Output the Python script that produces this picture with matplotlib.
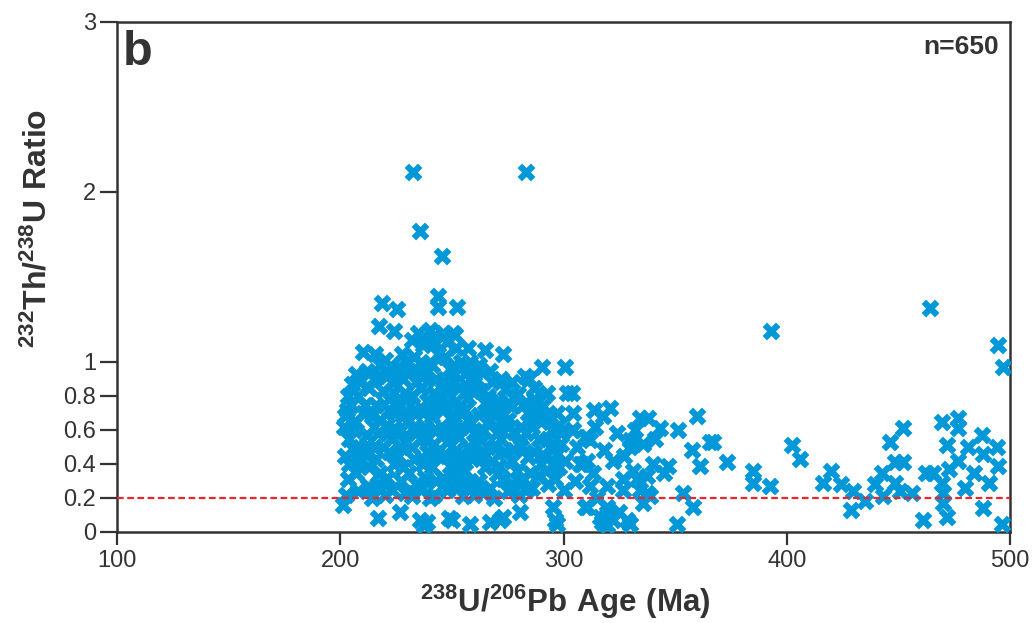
import matplotlib
matplotlib.use("Agg")
import matplotlib.pyplot as plt

# ---------------- data ----------------
# high outliers
age_high = [232.4, 283.0, 235.7, 245.7, 243.8, 218.6, 225.3, 243.9, 252.1, 217.5, 224.2,
            392.9, 464.2, 494.8, 497.0]
ratio_high = [2.12, 2.12, 1.77, 1.625, 1.39, 1.35, 1.31, 1.325, 1.325, 1.21, 1.18,
              1.18, 1.32, 1.10, 0.97]

# main cluster 200-300 Ma
age_core = [202, 201.5, 202, 203.5, 204, 205, 205.1, 203, 204, 202.5,
            207, 208, 206, 209, 207, 208, 210, 209, 207,
            210.3, 212, 213, 211, 214, 212, 211, 213, 212.6, 214, 215, 215,
            215.6, 220, 217, 219, 216, 218, 217, 219, 216, 218, 217, 220,
            221, 223, 222, 224, 221, 223, 222, 224, 221, 223, 222, 225,
            227.5, 226, 228, 229, 226, 228, 227, 229, 226, 228, 227, 229, 230, 230,
            232, 233, 231, 234, 232, 233, 231, 234, 232, 233, 231, 234, 232,
            235, 237, 236, 238, 236, 239, 237, 238, 236, 239, 237, 238, 236, 240,
            240.2, 242, 244, 241, 243, 242, 244, 241, 243, 242, 244, 241, 243, 242,
            246, 248, 247, 249, 246, 248, 250.6, 247, 249, 246, 248, 247, 249, 246, 248,
            250.6, 251.4, 252, 254, 251, 253, 252, 254, 251, 253, 252, 254, 251, 253, 255,
            257.4, 258, 256, 259, 257, 256, 258, 260, 257, 259, 256, 258, 260,
            264.8, 262, 261, 263, 265, 262, 264, 261, 263, 265, 262, 264,
            267.1, 268, 266, 269, 267, 270, 266, 268, 270, 267, 269,
            273, 272, 274, 271, 273, 275, 272, 274, 271, 273, 275,
            276.8, 279.7, 277, 275.3, 278, 280, 276.8, 279, 277, 280,
            282.8, 284.5, 282, 285, 283, 281, 284, 281.3, 283, 285,
            290.2, 287, 288, 286, 289, 287, 288.7, 286, 290,
            292.4, 291, 294.7, 293, 291.7, 294, 292, 293,
            296.9, 298, 296.2, 299, 297, 298, 300, 300.7, 301.4, 300.7]
ratio_core = [0.68, 0.62, 0.45, 0.31, 0.55, 0.75, 0.87, 0.72, 0.40, 0.22,
              0.93, 0.80, 0.60, 0.50, 0.35, 0.24, 0.70, 0.42, 0.65,
              1.06, 0.95, 0.85, 0.75, 0.68, 0.57, 0.46, 0.38, 0.27, 0.20, 0.90, 0.50,
              1.05, 1.01, 0.92, 0.83, 0.75, 0.66, 0.58, 0.50, 0.43, 0.35, 0.28, 0.22,
              0.95, 0.88, 0.78, 0.70, 0.63, 0.55, 0.47, 0.40, 0.32, 0.25, 0.72, 0.60,
              1.05, 0.97, 0.90, 0.82, 0.76, 0.69, 0.60, 0.53, 0.45, 0.38, 0.30, 0.23, 0.65, 1.00,
              1.13, 1.03, 0.95, 0.88, 0.80, 0.72, 0.66, 0.58, 0.50, 0.43, 0.35, 0.28, 0.21,
              1.17, 1.10, 1.00, 0.93, 0.85, 0.77, 0.70, 0.62, 0.55, 0.47, 0.40, 0.32, 0.25, 0.20,
              1.19, 1.12, 1.05, 0.98, 0.90, 0.82, 0.75, 0.68, 0.60, 0.52, 0.45, 0.38, 0.30, 0.22,
              1.17, 1.12, 1.03, 0.96, 0.89, 0.82, 0.89, 0.74, 0.67, 0.60, 0.53, 0.46, 0.39, 0.32, 0.25,
              1.17, 1.16, 1.08, 1.00, 0.93, 0.85, 0.77, 0.70, 0.63, 0.56, 0.48, 0.41, 0.34, 0.27, 0.21,
              1.08, 1.00, 0.93, 0.86, 0.79, 0.72, 0.65, 0.58, 0.50, 0.43, 0.36, 0.29, 0.22,
              1.07, 0.98, 0.90, 0.83, 0.76, 0.69, 0.60, 0.52, 0.45, 0.38, 0.30, 0.23,
              0.95, 0.88, 0.80, 0.73, 0.66, 0.58, 0.50, 0.42, 0.34, 0.26, 0.20,
              1.05, 0.90, 0.84, 0.77, 0.70, 0.62, 0.55, 0.47, 0.39, 0.31, 0.24,
              0.88, 0.81, 0.74, 0.66, 0.59, 0.52, 0.42, 0.36, 0.28, 0.22,
              0.92, 0.90, 0.75, 0.66, 0.58, 0.50, 0.44, 0.31, 0.25, 0.35,
              0.97, 0.85, 0.72, 0.62, 0.55, 0.47, 0.33, 0.26, 0.40,
              0.82, 0.74, 0.60, 0.67, 0.44, 0.50, 0.36, 0.28,
              0.70, 0.63, 0.31, 0.52, 0.46, 0.38, 0.25, 0.97, 0.82, 0.42]

# a few extra points inside the dense cluster
age_fill = [203.5, 206, 209, 211.5, 215, 218, 221.5, 224, 227, 230, 233,
            236, 239, 242, 245, 245.5, 248, 251, 254, 257, 260, 263, 266,
            269, 272, 275, 278, 281, 284, 287, 290, 293, 296, 299]
ratio_fill = [0.80, 0.48, 0.88, 0.50, 0.62, 0.98, 0.58, 0.82, 0.50, 0.78, 0.62,
              0.92, 0.55, 0.72, 0.80, 1.15, 0.58, 0.98, 0.62, 0.85, 0.93, 0.58, 0.70,
              0.50, 0.65, 0.76, 0.48, 0.62, 0.70, 0.78, 0.65, 0.55, 0.40, 0.58]

# low-ratio points under the 0.2 line (200-300 Ma)
age_low = [201.4, 216.9, 226.8, 235.7, 237.5, 238.7, 248.7, 249.9, 258.1,
           267.1, 271.6, 273.0, 280.5, 295.4, 296.2, 296.9]
ratio_low = [0.16, 0.08, 0.12, 0.07, 0.04, 0.06, 0.08, 0.07, 0.05,
             0.06, 0.07, 0.09, 0.12, 0.15, 0.07, 0.05]

# 300-375 Ma
age_mid = [303.6, 304.3, 303.6, 311.9, 307.4, 304.4, 309.6, 308.1, 309.6, 310.4,
           310.4, 311.9, 310.4, 316.3, 317.1, 317.8, 320.8, 319.3, 319.3, 319.3,
           319.3, 322.3, 322.3, 323.8, 326.8, 326.8, 328.3, 329.8, 329.8, 329.8,
           331.3, 332.8, 334.3, 334.3, 335.8, 335.8, 337.2, 337.2, 338.0, 338.8,
           343.2, 346.9, 350.7, 351.4, 353.7, 357.4, 358.2, 359.7, 361.1, 365.6,
           367.1, 373.1, 306.0, 314.0, 313.0, 305.0, 315.0, 318.0, 327.0, 332.0,
           340.0, 341.0, 345.0, 313.5, 325.0]
ratio_mid = [0.82, 0.70, 0.60, 0.54, 0.40, 0.60, 0.56, 0.40, 0.15, 0.56,
             0.42, 0.27, 0.15, 0.09, 0.06, 0.68, 0.73, 0.27, 0.15, 0.11,
             0.04, 0.42, 0.07, 0.58, 0.31, 0.25, 0.07, 0.54, 0.50, 0.05,
             0.36, 0.31, 0.67, 0.25, 0.52, 0.17, 0.33, 0.23, 0.67, 0.21,
             0.61, 0.39, 0.05, 0.60, 0.23, 0.48, 0.15, 0.68, 0.39, 0.53,
             0.53, 0.41, 0.50, 0.62, 0.35, 0.30, 0.20, 0.48, 0.45, 0.60,
             0.40, 0.55, 0.35, 0.72, 0.12]

# 375-500 Ma
age_old = [385.1, 385.1, 392.5, 402.2, 405.8, 416.3, 420.0, 424.5, 429.7, 429.0,
           435.0, 439.5, 442.5, 446.3, 452.2, 448.5, 452.2, 448.5, 443.3, 450.7,
           456.0, 461.2, 465.7, 462.5, 469.4, 476.9, 476.9, 471.6, 476.9, 472.5,
           469.4, 470.2, 470.2, 471.6, 479.9, 483.7, 481.4, 487.4, 488.1, 490.4,
           488.1, 494.0, 494.8, 496.3]
ratio_old = [0.36, 0.29, 0.27, 0.51, 0.43, 0.29, 0.36, 0.28, 0.24, 0.13,
             0.18, 0.28, 0.35, 0.53, 0.61, 0.41, 0.41, 0.29, 0.21, 0.24,
             0.23, 0.07, 0.35, 0.35, 0.65, 0.67, 0.61, 0.51, 0.42, 0.37,
             0.29, 0.23, 0.17, 0.09, 0.26, 0.35, 0.50, 0.57, 0.46, 0.29,
             0.14, 0.50, 0.39, 0.05]

yticks = [0, 0.2, 0.4, 0.6, 0.8, 1, 2, 3]
ytick_labels = ["0", "0.2", "0.4", "0.6", "0.8", "1", "2", "3"]
xticks = [100, 200, 300, 400, 500]
threshold = 0.2
n_label = "n=650"
panel = "b"

# ---------------- figure ----------------
plt.rcParams["mathtext.fontset"] = "custom"
plt.rcParams["mathtext.bf"] = "Liberation Sans:bold"
plt.rcParams["mathtext.rm"] = "Liberation Sans"
plt.rcParams["font.family"] = ["Liberation Sans", "DejaVu Sans"]

fig = plt.figure(figsize=(10.34, 6.23), dpi=100)
ax = fig.add_axes([117 / 1034, (623 - 532) / 623, 893 / 1034, 510 / 623])

blue = "#0098d8"
dark = "#333333"
ms = 165
for xs, ys in [(age_core, ratio_core), (age_fill, ratio_fill), (age_low, ratio_low),
               (age_mid, ratio_mid), (age_old, ratio_old), (age_high, ratio_high)]:
    ax.scatter(xs, ys, marker="X", s=ms, color=blue, linewidths=0, zorder=3)

ax.axhline(threshold, color="#e8262b", lw=1.6, ls=(0, (3, 1.6)), zorder=4)

ax.set_xlim(100, 500)
ax.set_ylim(0, 3)
ax.set_xticks(xticks)
ax.set_xticklabels([str(v) for v in xticks])
ax.set_yticks(yticks)
ax.set_yticklabels(ytick_labels)

for sp in ax.spines.values():
    sp.set_color(dark)
    sp.set_linewidth(1.8)
ax.tick_params(axis="y", length=12, width=1.6, color=dark, labelsize=17,
               labelcolor=dark, pad=3)
ax.tick_params(axis="x", length=9, width=1.6, color=dark, labelsize=17,
               labelcolor=dark, pad=4)

ax.text(0.006, 0.985, panel, transform=ax.transAxes, fontsize=35, fontweight="bold",
        color=dark, ha="left", va="top")
ax.text(0.988, 0.975, n_label, transform=ax.transAxes, fontsize=19, fontweight="bold",
        color=dark, ha="right", va="top")

fig.text(38 / 1034, (623 - 228) / 623, r"$\mathbf{^{232}Th/^{238}U\ Ratio}$",
         rotation=90, ha="center", va="center", fontsize=23, color=dark)
fig.text(565 / 1034, 0.004, r"$\mathbf{^{238}U/^{206}Pb\ Age\ (Ma)}$",
         ha="center", va="bottom", fontsize=22.5, color=dark)

fig.savefig("out.png", dpi=100)
